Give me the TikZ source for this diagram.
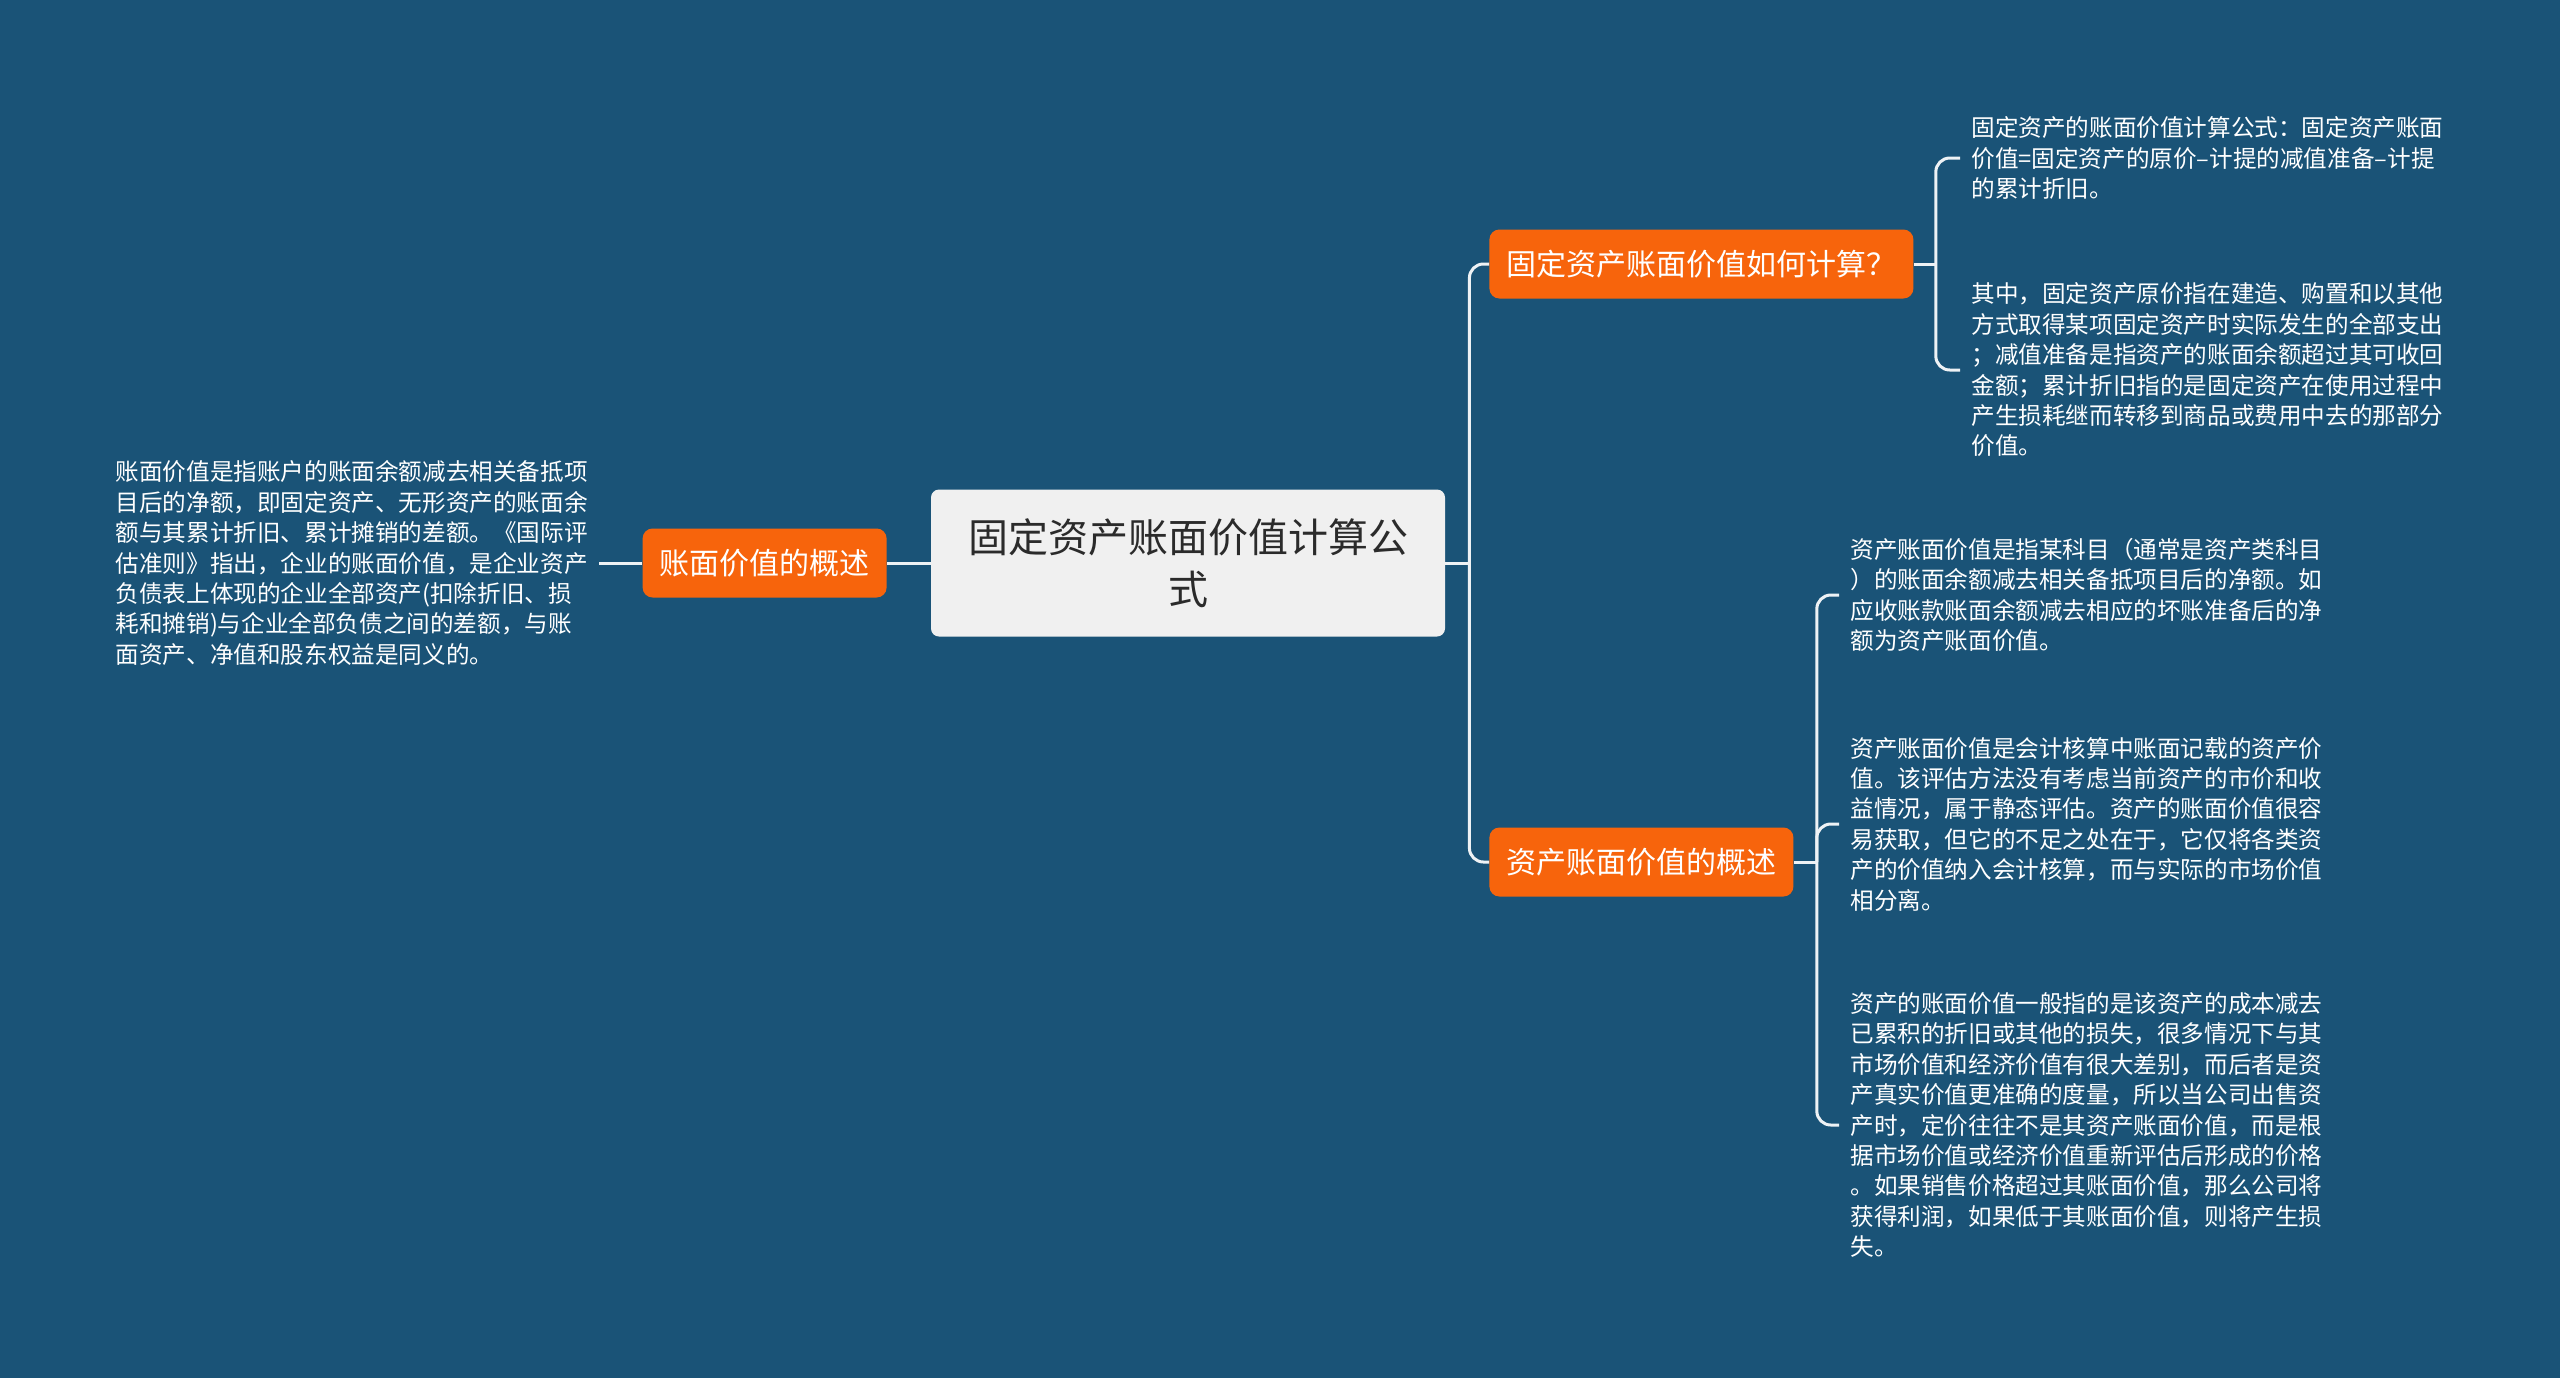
\documentclass[tikz,border=0pt]{standalone}
\usepackage{fontspec}
\setmainfont{Noto Sans CJK SC}
\usepackage{tikz}
\usetikzlibrary{positioning}
\definecolor{bgblue}{HTML}{1A5377}
\definecolor{orange}{HTML}{F7640C}
\definecolor{rootfill}{HTML}{F0F0F0}
\definecolor{roottext}{HTML}{2B2B2B}
\definecolor{linkcol}{HTML}{EEF2F5}

\begin{document}
\begin{tikzpicture}[
    x=0.5pt, y=-0.5pt,
    root/.style  = {rectangle, rounded corners=4pt, fill=rootfill, text=roottext,
                    minimum width=257pt, minimum height=73.5pt, align=center,
                    font=\fontsize{20}{26}\selectfont},
    topic/.style = {rectangle, rounded corners=5pt, fill=orange, text=white,
                    minimum height=34.5pt, inner xsep=8.5pt,
                    font=\fontsize{15}{18}\selectfont},
    leaf/.style  = {align=left, text=white, inner xsep=5.5pt, inner ysep=0pt,
                    font=\fontsize{11.8}{15.2}\selectfont},
    conn/.style  = {linkcol, line width=1.5pt, rounded corners=7pt},
  ]
    \fill[bgblue] (0,0) rectangle (2560,1378);

    % ── Centre and left branch ───────────────────────────────
    \node[root] (root) at (1188, 563) {固定资产账面价值计算公\\式};
    \node[topic, anchor=east] (acct) at (887, 563) {账面价值的概述};
    \node[leaf, anchor=east] (accdef) at (599, 563)
      {账面价值是指账户的账面余额减去相关备抵项\\
       目后的净额，即固定资产、无形资产的账面余\\
       额与其累计折旧、累计摊销的差额。《国际评\\
       估准则》指出，企业的账面价值，是企业资产\\
       负债表上体现的企业全部资产(扣除折旧、损\\
       耗和摊销)与企业全部负债之间的差额，与账\\
       面资产、净值和股东权益是同义的。};
    \draw[conn] (root.west) -- (acct.east);
    \draw[conn] (acct.west) -- (accdef.east);

    % ── Right topics ─────────────────────────────────────────
    \node[topic, anchor=west] (calc) at (1489, 264) {固定资产账面价值如何计算？};
    \node[topic, anchor=west] (summ) at (1489, 862) {资产账面价值的概述};
    \coordinate (rootj) at ([xshift=12pt]root.east);
    \draw[conn] (root.east) -- (rootj);
    \draw[conn] (calc.west) -| (rootj) |- (summ.west);

    % ── How to calculate ─────────────────────────────────────
    \node[leaf, anchor=west] (fml) at (1960, 158)
      {固定资产的账面价值计算公式：固定资产账面\\
       价值=固定资产的原价–计提的减值准备–计提\\
       的累计折旧。};
    \node[leaf, anchor=west] (note) at (1960, 370)
      {其中，固定资产原价指在建造、购置和以其他\\
       方式取得某项固定资产时实际发生的全部支出\\
       ；减值准备是指资产的账面余额超过其可收回\\
       金额；累计折旧指的是固定资产在使用过程中\\
       产生损耗继而转移到商品或费用中去的那部分\\
       价值。};
    \coordinate (calcj) at ([xshift=11pt]calc.east);
    \draw[conn] (calc.east) -- (calcj);
    \draw[conn] (fml.west) -| (calcj) |- (note.west);

    % ── Overview ─────────────────────────────────────────────
    \node[leaf, anchor=west] (def1) at (1839, 595)
      {资产账面价值是指某科目（通常是资产类科目\\
       ）的账面余额减去相关备抵项目后的净额。如\\
       应收账款账面余额减去相应的坏账准备后的净\\
       额为资产账面价值。};
    \node[leaf, anchor=west] (def2) at (1839, 824)
      {资产账面价值是会计核算中账面记载的资产价\\
       值。该评估方法没有考虑当前资产的市价和收\\
       益情况，属于静态评估。资产的账面价值很容\\
       易获取，但它的不足之处在于，它仅将各类资\\
       产的价值纳入会计核算，而与实际的市场价值\\
       相分离。};
    \node[leaf, anchor=west] (def3) at (1839, 1125)
      {资产的账面价值一般指的是该资产的成本减去\\
       已累积的折旧或其他的损失，很多情况下与其\\
       市场价值和经济价值有很大差别，而后者是资\\
       产真实价值更准确的度量，所以当公司出售资\\
       产时，定价往往不是其资产账面价值，而是根\\
       据市场价值或经济价值重新评估后形成的价格\\
       。如果销售价格超过其账面价值，那么公司将\\
       获得利润，如果低于其账面价值，则将产生损\\
       失。};
    \coordinate (summj) at ([xshift=11.5pt]summ.east);
    \draw[conn] (summ.east) -- (summj);
    \draw[conn] (def1.west) -| (summj) |- (def3.west);
    \draw[conn] (summj) |- (def2.west);

  \end{tikzpicture}
\end{document}
